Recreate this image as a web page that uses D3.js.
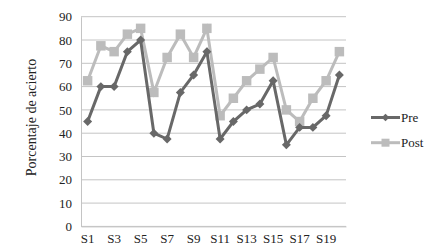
<!DOCTYPE html>
<html><head><meta charset="utf-8">
<script src="https://cdn.jsdelivr.net/npm/d3@7"></script>
<style>body{margin:0;background:#fff;} svg{display:block;}</style>
</head><body>
<script>
const categories = ["S1","S2","S3","S4","S5","S6","S7","S8","S9","S10","S11","S12","S13","S14","S15","S16","S17","S18","S19","S20"];
const preValues  = [45,60,60,75,80,40,37.5,57.5,65,75,37.5,45,50,52.5,62.5,35,42.5,42.5,47.5,65];
const postValues = [62.5,77.5,75,82.5,85,57.5,72.5,82.5,72.5,85,47.5,55,62.5,67.5,72.5,50,45,55,62.5,75];
const yTicks = [0,10,20,30,40,50,60,70,80,90];
const xTickLabels = ["S1","S3","S5","S7","S9","S11","S13","S15","S17","S19"];
const seriesNames = ["Pre","Post"];

(function(){
const W = 446, H = 250;
const mLeft = 81, mRight = 346, mTop = 16.7, mBottom = 226.4;
const font = "'Liberation Serif','DejaVu Serif',serif";
const preColor = "#686868", postColor = "#bcbcbc";

const svg = d3.select("body").append("svg").attr("width", W).attr("height", H);

const x = d3.scaleBand().domain(categories).range([mLeft, mRight]);
const y = d3.scaleLinear().domain([0, 90]).range([mBottom, mTop]);

// gridlines
svg.append("g").selectAll("line").data(yTicks).join("line")
  .attr("x1", mLeft).attr("x2", mRight)
  .attr("y1", d => y(d)).attr("y2", d => y(d))
  .attr("stroke", "#c4c4c4").attr("stroke-width", 1);

// y axis
const yAxis = svg.append("g").attr("transform", `translate(${mLeft},0)`)
  .call(d3.axisLeft(y).tickValues(yTicks).tickSize(0).tickPadding(9));
yAxis.select(".domain").attr("stroke", "#c4c4c4");
yAxis.selectAll("text").attr("font-family", font).attr("font-size", 13).attr("fill", "#222");

// x axis
const xAxis = svg.append("g").attr("transform", `translate(0,${mBottom})`)
  .call(d3.axisBottom(x).tickValues(xTickLabels).tickSize(0).tickPadding(7));
xAxis.select(".domain").attr("stroke", "#c4c4c4");
xAxis.selectAll("text").attr("font-family", font).attr("font-size", 13).attr("fill", "#222");

// y title
svg.append("text")
  .attr("transform", `translate(36,117.5) rotate(-90)`)
  .attr("text-anchor", "middle")
  .attr("font-family", font).attr("font-size", 14).attr("fill", "#222")
  .text("Porcentaje de acierto");

const cx = d => x(d) + x.bandwidth()/2;
const line = d3.line().x((d,i) => cx(categories[i])).y(d => y(d));

const square = d3.symbol().type(d3.symbolSquare).size(90);
const diamond = d3.symbol().type(d3.symbolSquare).size(40);

// Post series
svg.append("path").datum(postValues).attr("d", line)
  .attr("fill", "none").attr("stroke", postColor).attr("stroke-width", 3);
svg.append("g").selectAll("path").data(postValues).join("path")
  .attr("d", square).attr("fill", postColor)
  .attr("transform", (d,i) => `translate(${cx(categories[i])},${y(d)})`);

// Pre series
svg.append("path").datum(preValues).attr("d", line)
  .attr("fill", "none").attr("stroke", preColor).attr("stroke-width", 3);
svg.append("g").selectAll("path").data(preValues).join("path")
  .attr("d", diamond).attr("fill", preColor)
  .attr("transform", (d,i) => `translate(${cx(categories[i])},${y(d)}) rotate(45)`);

// legend
const legend = [
  {name: seriesNames[0], color: preColor, sym: "d", yy: 117.5},
  {name: seriesNames[1], color: postColor, sym: "s", yy: 142.7}
];
const lg = svg.append("g");
legend.forEach(l => {
  lg.append("line").attr("x1", 371).attr("x2", 400).attr("y1", l.yy).attr("y2", l.yy)
    .attr("stroke", l.color).attr("stroke-width", 3);
  if (l.sym === "d") {
    lg.append("path").attr("d", d3.symbol().type(d3.symbolSquare).size(30)())
      .attr("fill", l.color).attr("transform", `translate(385.5,${l.yy}) rotate(45)`);
  } else {
    lg.append("path").attr("d", d3.symbol().type(d3.symbolSquare).size(64)()).attr("fill", l.color)
      .attr("transform", `translate(385.5,${l.yy})`);
  }
  lg.append("text").attr("x", 401).attr("y", l.yy + 4.5)
    .attr("font-family", font).attr("font-size", 13).attr("fill", "#222").text(l.name);
});
})();
</script>
</body></html>
